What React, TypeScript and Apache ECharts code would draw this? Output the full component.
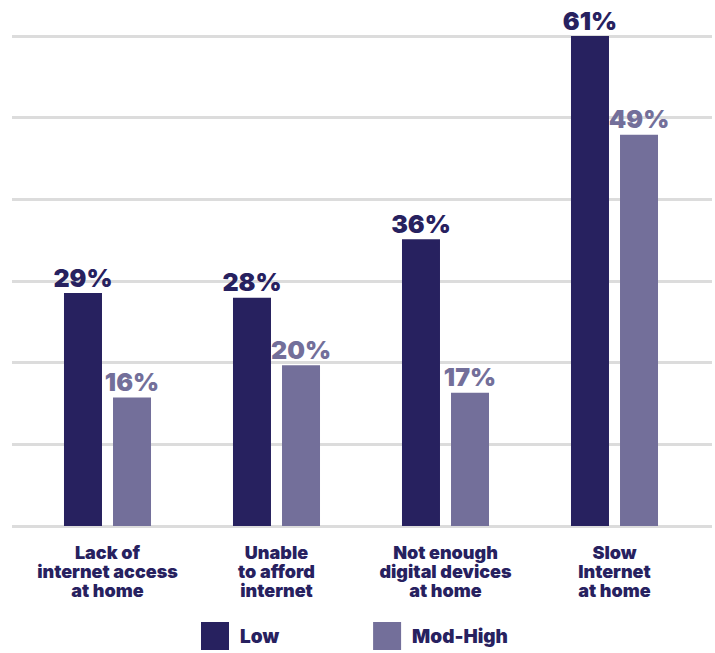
import React, { useEffect, useRef } from "react";
import * as echarts from "echarts";

const categories = [
  "Lack of\ninternet access\nat home",
  "Unable\nto afford\ninternet",
  "Not enough\ndigital devices\nat home",
  "Slow\nInternet\nat home",
];
const lowValues = [29.0, 28.4, 35.7, 61.0];
const modHighValues = [16.0, 20.0, 16.6, 48.7];
const seriesNames = ["Low", "Mod-High"];
const axisMax = 61;
const splitCount = 6;

const NAVY = "#27215f";
const PURPLE = "#736f9a";
const FONT = "Inter, 'Noto Sans', sans-serif";

export default function App() {
  const ref = useRef<HTMLDivElement>(null);
  useEffect(() => {
    if (!ref.current) return;
    const chart = echarts.init(ref.current, null, { renderer: "svg" });
    const labelStyle = (color: string) => ({
      show: true,
      position: "top" as const,
      distance: 3,
      formatter: (p: any) => `${Math.round(p.value)}%`,
      color,
      fontFamily: FONT,
      fontWeight: 900,
      fontSize: 25,
    });
    chart.setOption({
      animation: false,
      backgroundColor: "#ffffff",
      legend: {
        left: 201,
        top: 622,
        padding: 0,
        itemWidth: 28,
        itemHeight: 28,
        itemGap: 94,
        icon: "rect",
        textStyle: { color: NAVY, fontFamily: FONT, fontWeight: 900, fontSize: 19, padding: [0, 0, 0, 6] },
        data: seriesNames,
      },
      grid: [
        { left: 12, right: 3, top: 36, bottom: 127 },
        { left: 23, right: 16, top: 36, bottom: 127 },
      ],
      xAxis: [
        { type: "value", gridIndex: 0, show: false, min: 0, max: 1 },
        {
          type: "category",
          gridIndex: 1,
          data: categories,
          axisLine: { show: false },
          axisTick: { show: false },
          axisLabel: {
            color: NAVY,
            fontFamily: FONT,
            fontWeight: 900,
            fontSize: 18,
            lineHeight: 19,
            margin: 17,
            interval: 0,
          },
        },
      ],
      yAxis: [
        {
          type: "value",
          gridIndex: 0,
          min: 0,
          max: axisMax,
          interval: axisMax / splitCount,
          axisLabel: { show: false },
          axisLine: { show: false },
          axisTick: { show: false },
          splitLine: { show: true, lineStyle: { color: "#dcdcdc", width: 3 } },
        },
        {
          type: "value",
          gridIndex: 1,
          min: 0,
          max: axisMax,
          show: false,
          splitLine: { show: false },
        },
      ],
      series: [
        {
          name: seriesNames[0],
          type: "bar",
          xAxisIndex: 1,
          yAxisIndex: 1,
          data: lowValues,
          barWidth: 38,
          barGap: "29%",
          itemStyle: { color: NAVY },
          label: labelStyle(NAVY),
        },
        {
          name: seriesNames[1],
          type: "bar",
          xAxisIndex: 1,
          yAxisIndex: 1,
          data: modHighValues,
          barWidth: 38,
          barGap: "29%",
          itemStyle: { color: PURPLE },
          label: labelStyle(PURPLE),
        },
      ],
    });
    return () => chart.dispose();
  }, []);
  return <div ref={ref} style={{ width: 715, height: 653, position: "fixed", left: 0, top: 0 }} />;
}
